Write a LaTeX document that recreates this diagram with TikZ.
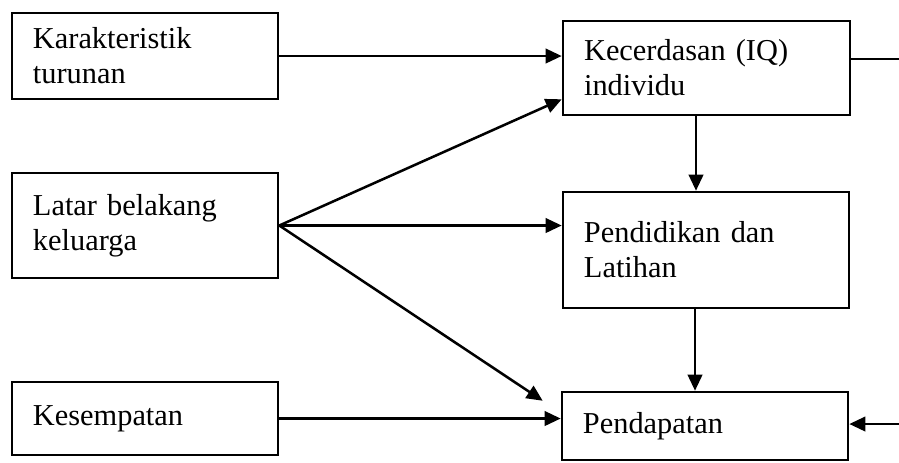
\documentclass[tikz,border=0pt]{standalone}
\usepackage{fontspec}
\setmainfont{Liberation Serif}
\usetikzlibrary{positioning, arrows.meta, calc}

\begin{document}
\begin{tikzpicture}[x=0.0125cm, y=-0.0125cm, line width=0.9pt,
	blok/.style={rectangle, draw, align=left, inner xsep=0.26cm, inner ysep=0pt,
	font=\fontsize{10.8}{12.4}\selectfont},
	panah/.style={-{Triangle[length=2mm, width=1.8mm]}}]
		
		\useasboundingbox (0,0) rectangle (899,462);
		\clip (0,0) rectangle (899,462);
		
		%Nodes
		\node (kar) at (145,56) [blok, minimum width=3.325cm, minimum height=1.075cm, 
		text width=2.8cm]{Karakteristik \\ turunan};
		
		\node (latar) at (145,225.5) [blok, minimum width=3.325cm, minimum height=1.3125cm, 
		text width=2.8cm]{Latar belakang \\ keluarga};
		
		\node (kes) at (145,418.5) [blok, minimum width=3.325cm, minimum height=0.9125cm, 
		text width=2.8cm]{Kesempatan};
		
		\node (iq) at (706.5,68) [blok, minimum width=3.5875cm, minimum height=1.175cm, 
		text width=3.06cm]{Kecerdasan (IQ) \\ individu};
		
		\node (didik) at (706,250) [blok, minimum width=3.575cm, minimum height=1.45cm, 
		text width=3.05cm]{Pendidikan dan \\ Latihan};
		
		\node (dapat) at (705,426) [blok, minimum width=3.575cm, minimum height=0.85cm, 
		text width=3.05cm]{Pendapatan};
		
		\coordinate (outA) at (899,59);
		\coordinate (outB) at (899,424);
		\coordinate (turunA) at ($(didik.north)+(-10,0)$);
		\coordinate (turunB) at ($(dapat.north)+(-10,0)$);
		
		%Links
		\draw[panah] (kar.east) -- (kar.east -| iq.west);
		\draw[panah] (latar.east) -- ($(iq.south west)+(0,-17)$);
		\draw[panah] (latar.east) -- (latar.east -| didik.west);
		\draw[panah] (latar.east) -- ($(dapat.north west)+(-18,10)$);
		\draw[panah] (kes.east) -- (kes.east -| dapat.west);
		\draw[panah] (turunA |- iq.south) -- (turunA);
		\draw[panah] (turunB |- didik.south) -- (turunB);
		\draw (outA -| iq.east) -- (outA);
		\draw[panah] (outB) -- (outB -| dapat.east);
		
\end{tikzpicture}
\end{document}
